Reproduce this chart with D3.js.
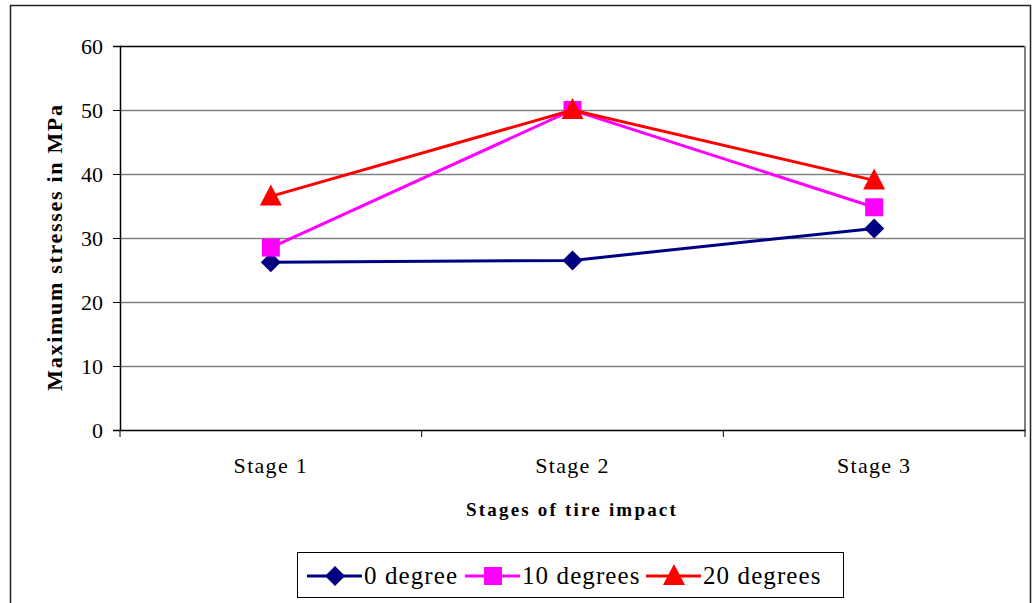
<!DOCTYPE html>
<html><head><meta charset="utf-8">
<script src="https://cdn.jsdelivr.net/npm/d3@7"></script>
<style>body{margin:0;background:#fff}svg{display:block}text{font-family:"Liberation Serif","Times New Roman",serif}</style>
</head><body>
<script>
const categories = ["Stage 1", "Stage 2", "Stage 3"];
const deg0 = [26.2, 26.5, 31.5];
const deg10 = [28.5, 50.0, 34.8];
const deg20 = [36.5, 50.0, 39.0];
const yTicks = [0, 10, 20, 30, 40, 50, 60];
const seriesNames = ["0 degree", "10 degrees", "20 degrees"];

const W = 1034, H = 603;
const svg = d3.select("body").append("svg").attr("width", W).attr("height", H);
const font = '"Liberation Serif","Times New Roman",serif';

// outer border
svg.append("rect").attr("x", 10.5).attr("y", 5.5).attr("width", 1020).attr("height", 620)
  .attr("fill", "none").attr("stroke", "#222").attr("stroke-width", 1.5);

const L = 120, R = 1025, T = 46, B = 430;
const x = d3.scaleBand().domain(categories).range([L, R]);
const y = d3.scaleLinear().domain([0, 60]).range([B, T]);

// gridlines
svg.append("g").selectAll("line").data(yTicks.filter(d => d > 0)).join("line")
  .attr("x1", L).attr("x2", R).attr("y1", d => y(d) + 0.5).attr("y2", d => y(d) + 0.5)
  .attr("stroke", d => d === 60 ? "#000" : "#808080").attr("stroke-width", 1.5);
// right edge
svg.append("line").attr("x1", R).attr("x2", R).attr("y1", T).attr("y2", B)
  .attr("stroke", "#808080").attr("stroke-width", 2);

// y axis
const ya = svg.append("g").attr("transform", `translate(${L},0)`)
  .call(d3.axisLeft(y).tickValues(yTicks).tickSize(7).tickPadding(10));
ya.attr("font-family", null);
ya.select(".domain").attr("stroke", "#000").attr("stroke-width", 1.5);
ya.selectAll(".tick line").attr("stroke", "#000");
ya.selectAll("text").style("font-family", font).attr("font-size", 22).attr("fill", "#000");

// x axis
const xa = svg.append("g").attr("transform", `translate(0,${B})`)
  .call(d3.axisBottom(x).tickSize(0).tickPadding(27));
xa.attr("font-family", null);
xa.select(".domain").attr("stroke", "#000").attr("stroke-width", 1.5);
xa.selectAll("text").style("font-family", font).attr("font-size", 22).attr("fill", "#000")
  .attr("letter-spacing", "1.3px");
const bounds = categories.map(c => x(c)).concat([R]);
svg.append("g").selectAll("line").data(bounds).join("line")
  .attr("x1", d => d).attr("x2", d => d).attr("y1", B).attr("y2", B + 7)
  .attr("stroke", "#000").attr("stroke-width", 1);

// axis titles
svg.append("text").attr("transform", "translate(62,247) rotate(-90)")
  .attr("text-anchor", "middle").style("font-family", font).attr("font-weight", "bold")
  .attr("font-size", 22).attr("letter-spacing", "1.7px").text("Maximum stresses in MPa");
svg.append("text").attr("x", 572).attr("y", 516).attr("text-anchor", "middle")
  .style("font-family", font).attr("font-weight", "bold").attr("font-size", 19)
  .attr("letter-spacing", "2.2px").text("Stages of tire impact");

const series = [
  {name: seriesNames[0], values: deg0, color: "#000080", shape: "diamond"},
  {name: seriesNames[1], values: deg10, color: "#FF00FF", shape: "square"},
  {name: seriesNames[2], values: deg20, color: "#FF0000", shape: "triangle"}
];
const cx = c => x(c) + x.bandwidth() / 2;
function marker(g, shape, color, px, py) {
  if (shape === "diamond") {
    g.append("path").attr("d", `M${px},${py-10}L${px+10},${py}L${px},${py+10}L${px-10},${py}Z`).attr("fill", color);
  } else if (shape === "square") {
    g.append("rect").attr("x", px - 9).attr("y", py - 9).attr("width", 18).attr("height", 18).attr("fill", color);
  } else {
    g.append("path").attr("d", `M${px},${py-12}L${px+11},${py+9}L${px-11},${py+9}Z`).attr("fill", color);
  }
}
const line = d3.line().x((d, i) => cx(categories[i])).y(d => y(d));
series.forEach(s => {
  const g = svg.append("g");
  g.append("path").attr("d", line(s.values)).attr("fill", "none")
    .attr("stroke", s.color).attr("stroke-width", 3);
  s.values.forEach((v, i) => marker(g, s.shape, s.color, cx(categories[i]), y(v)));
});

// legend
const lg = svg.append("g");
lg.append("rect").attr("x", 297.5).attr("y", 552.5).attr("width", 546).attr("height", 45)
  .attr("fill", "#fff").attr("stroke", "#000").attr("stroke-width", 1);
const legX = [307, 465, 646];
series.forEach((s, i) => {
  const x0 = legX[i];
  lg.append("line").attr("x1", x0).attr("x2", x0 + 55).attr("y1", 576).attr("y2", 576)
    .attr("stroke", s.color).attr("stroke-width", 3);
  marker(lg, s.shape, s.color, x0 + 28, 576);
  lg.append("text").attr("x", x0 + 57).attr("y", 584).style("font-family", font)
    .attr("font-size", 25).attr("letter-spacing", "1.1px").text(s.name);
});
</script>
</body></html>
